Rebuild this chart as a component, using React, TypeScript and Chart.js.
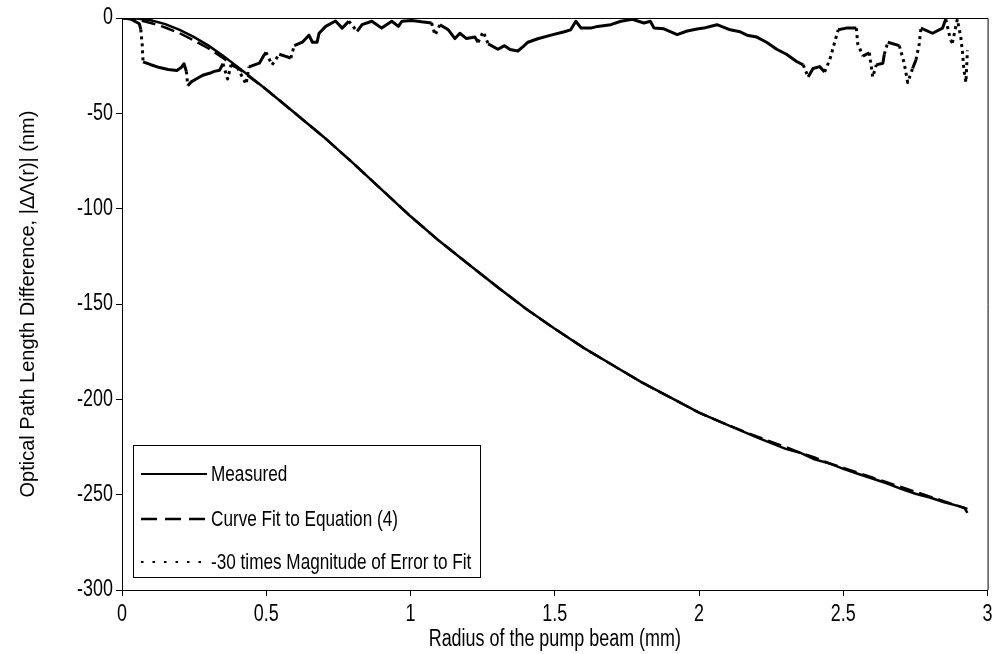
import React, { useEffect, useRef } from 'react';
import { Chart, registerables } from 'chart.js';

Chart.register(...registerables);

// ---- data ----
const radius = [0, 0.05, 0.1, 0.15, 0.2, 0.25, 0.3, 0.35, 0.4, 0.45, 0.5, 0.6, 0.7, 0.8, 0.9, 1.0, 1.1, 1.2, 1.3, 1.4, 1.5, 1.6, 1.7, 1.8, 1.9, 2.0, 2.1, 2.2, 2.3, 2.35, 2.4, 2.45, 2.5, 2.55, 2.6, 2.65, 2.7, 2.75, 2.8, 2.85, 2.9, 2.92, 2.93];
const measured = [0, -0.3, -1.2, -3.2, -6.2, -10, -14.5, -19.8, -25.5, -31.5, -37.5, -50, -62.5, -76, -90, -104, -117, -129, -141, -152.5, -163, -173, -182, -191, -199, -207, -213.5, -220, -226, -228, -231.5, -233.5, -236.5, -239, -241.5, -244, -247, -249.5, -251.5, -254, -256, -257, -259.5];
const curveFit = [0, -0.8, -2.6, -5, -8, -11.8, -16, -21, -26.2, -31.8, -37.5, -50, -62.5, -76, -90, -104, -117, -129, -141, -152.5, -163, -173, -182, -191, -199, -207, -213.5, -219.5, -225, -228, -230.5, -233.5, -236, -238.5, -241, -243.5, -246, -248.5, -251, -253.5, -256, -257, -257.5];

const errorRadius = [0, 0.03, 0.06, 0.065, 0.07, 0.073, 0.1, 0.13, 0.16, 0.19, 0.205, 0.215, 0.223, 0.228, 0.24, 0.257, 0.28, 0.303, 0.32, 0.338, 0.35, 0.366, 0.378, 0.4, 0.43, 0.44, 0.476, 0.49, 0.499, 0.52, 0.545, 0.565, 0.585, 0.597, 0.625, 0.648, 0.66, 0.676, 0.683, 0.706, 0.74, 0.763, 0.786, 0.815, 0.832, 0.866, 0.9, 0.935, 0.958, 0.97, 1.004, 1.038, 1.073, 1.085, 1.102, 1.131, 1.154, 1.171, 1.194, 1.223, 1.234, 1.252, 1.269, 1.303, 1.326, 1.345, 1.372, 1.39, 1.407, 1.441, 1.487, 1.533, 1.555, 1.573, 1.591, 1.625, 1.648, 1.694, 1.729, 1.769, 1.809, 1.831, 1.844, 1.878, 1.924, 1.959, 1.993, 2.016, 2.062, 2.108, 2.142, 2.166, 2.2, 2.234, 2.269, 2.303, 2.338, 2.361, 2.378, 2.395, 2.418, 2.435, 2.453, 2.47, 2.482, 2.51, 2.545, 2.55, 2.568, 2.59, 2.602, 2.614, 2.637, 2.642, 2.654, 2.694, 2.711, 2.723, 2.74, 2.752, 2.763, 2.769, 2.809, 2.844, 2.855, 2.872, 2.878, 2.895, 2.907, 2.913, 2.918, 2.925, 2.93];
const errorValues = [0, -0.5, -3, -6, -14, -23, -24.5, -26, -27, -27.5, -26, -24, -28, -35.5, -33.5, -32, -30, -29, -28, -27.4, -24, -32, -24.6, -26, -34.7, -25.6, -23.7, -20, -18, -24.6, -19, -20, -21, -14.5, -12.7, -9, -12.7, -12.7, -8, -4.4, -1.6, -5.3, -1.7, -7, -3.5, -1.7, -5.3, -1.7, -4.4, -1.7, -1.3, -2, -2.6, -9, -3.5, -6.2, -10.8, -8, -10.8, -10, -12.7, -7.2, -13.6, -16.4, -14.5, -16.5, -17.3, -15, -12.7, -10.9, -9, -7.2, -6.2, -1.7, -5.3, -5.3, -4.4, -3.5, -1.7, -0.7, -2.6, -1.7, -5.3, -5.7, -8.7, -6.8, -5.8, -5.3, -3.5, -6.2, -7.2, -9, -10, -12.7, -16.4, -19, -22.8, -24.6, -31, -26.5, -25.5, -28.3, -21.9, -12.7, -6.2, -5.3, -5.3, -13.6, -20, -18.2, -31, -24.6, -23.7, -19, -12.7, -14.5, -23.7, -33.8, -26.5, -21.9, -13.6, -5.3, -8, -5.3, -0.7, -11.8, -13, -0.7, -10, -18, -27.4, -33.8, -17];

const xTicks = [0, 0.5, 1, 1.5, 2, 2.5, 3];
const yTicks = [0, -50, -100, -150, -200, -250, -300];

const labels = ['Measured', 'Curve Fit to Equation (4)', '-30 times Magnitude of Error to Fit'];
const xTitle = 'Radius of the pump beam (mm)';
const yTitle = 'Optical Path Length Difference, |ΔΛ(r)| (nm)';

const FONT = "'Liberation Sans', Arial, Helvetica, sans-serif";
const SQUEEZE = 0.78; // the reference's horizontal text is drawn narrow

function patchText(ctx: any) {
  if (ctx.__squeezed) return;
  ctx.__squeezed = true;
  const orig = ctx.fillText.bind(ctx);
  ctx.fillText = (text: string, x: number, y: number, maxWidth?: number) => {
    const m = ctx.getTransform();
    if (Math.abs(m.b) > 1e-6 || Math.abs(m.c) > 1e-6) {
      if (maxWidth === undefined) orig(text, x, y); else orig(text, x, y, maxWidth);
      return;
    }
    ctx.save();
    ctx.translate(x, y);
    ctx.scale(SQUEEZE, 1);
    orig(text, 0, 0);
    ctx.restore();
  };
}

const squeezePlugin = {
  id: 'squeezeText',
  beforeDraw(chart: any) { patchText(chart.ctx); },
};

const framePlugin = {
  id: 'frame',
  afterDatasetsDraw(chart: any) {
    const { ctx, chartArea } = chart;
    const { left, right, top, bottom } = chartArea;
    ctx.save();
    ctx.strokeStyle = '#000';
    ctx.lineWidth = 1;
    ctx.beginPath();
    ctx.moveTo(left, top + 0.5);
    ctx.lineTo(right + 0.5, top + 0.5);
    ctx.lineTo(right + 0.5, bottom);
    ctx.stroke();
    ctx.restore();
  },
};

const legendPlugin = {
  id: 'boxLegend',
  afterDraw(chart: any) {
    const { ctx } = chart;
    const ds = chart.data.datasets;
    const bx = 133, by = 445, bw = 347, bh = 132;
    const rows = [474, 519, 562];
    ctx.save();
    ctx.fillStyle = '#fff';
    ctx.fillRect(bx, by, bw, bh);
    ctx.strokeStyle = '#000';
    ctx.lineWidth = 1;
    ctx.strokeRect(bx + 0.5, by + 0.5, bw, bh);
    ds.forEach((d: any, i: number) => {
      const y = rows[i];
      ctx.beginPath();
      ctx.strokeStyle = '#000';
      ctx.lineWidth = d.legendWidth;
      ctx.setLineDash(d.legendDash || []);
      ctx.moveTo(141, y);
      ctx.lineTo(207, y);
      ctx.stroke();
      ctx.setLineDash([]);
      ctx.fillStyle = '#000';
      ctx.font = `22px ${FONT}`;
      ctx.textBaseline = 'middle';
      ctx.textAlign = 'left';
      ctx.fillText(d.label, 211, y + 1);
    });
    ctx.restore();
  },
};

export default function App() {
  const ref = useRef<HTMLCanvasElement>(null);
  useEffect(() => {
    if (!ref.current) return;
    const chart = new Chart(ref.current, {
      type: 'line',
      data: {
        datasets: [
          {
            label: labels[0],
            data: radius.map((r, i) => ({ x: r, y: measured[i] })),
            borderColor: '#000',
            borderWidth: 2.5,
            pointRadius: 0,
            tension: 0,
            legendDash: [],
            legendWidth: 2,
          } as any,
          {
            label: labels[1],
            data: radius.map((r, i) => ({ x: r, y: curveFit[i] })),
            borderColor: '#000',
            borderWidth: 2.5,
            borderDash: [14, 6],
            pointRadius: 0,
            tension: 0,
            legendDash: [16, 8],
            legendWidth: 2.5,
          } as any,
          {
            label: labels[2],
            data: errorRadius.map((r, i) => ({ x: r, y: errorValues[i] })),
            borderColor: '#000',
            borderWidth: 3,
            pointRadius: 0,
            tension: 0,
            borderJoinStyle: 'round',
            legendDash: [2.5, 9],
            legendWidth: 2,
            segment: {
              borderDash: (c: any) => (Math.abs(c.p1.y - c.p0.y) > 9 ? [3, 4] : []),
            },
          } as any,
        ],
      },
      options: {
        animation: false,
        responsive: false,
        maintainAspectRatio: false,
        layout: { padding: { top: 18, right: 9, left: 0, bottom: 0 } },
        plugins: { legend: { display: false }, tooltip: { enabled: false } },
        scales: {
          x: {
            type: 'linear',
            min: 0,
            max: 3,
            afterFit: (s: any) => { s.height = 64; },
            afterBuildTicks: (s: any) => { s.ticks = xTicks.map((v) => ({ value: v })); },
            grid: { drawOnChartArea: false, drawTicks: true, tickLength: 6, color: '#000' },
            border: { display: true, color: '#000', width: 1 },
            ticks: { color: '#000', font: { family: FONT, size: 23 }, padding: 5, maxRotation: 0, callback: (v: any) => String(v) },
            title: { display: true, text: xTitle, color: '#000', font: { family: FONT, size: 23 }, padding: { top: 0, bottom: 1 } },
          },
          y: {
            type: 'linear',
            min: -300,
            max: 0,
            afterFit: (s: any) => { s.width = 122; },
            afterBuildTicks: (s: any) => { s.ticks = yTicks.map((v) => ({ value: v })); },
            grid: { drawOnChartArea: false, drawTicks: true, tickLength: 6, color: '#000' },
            border: { display: true, color: '#000', width: 1 },
            ticks: { color: '#000', font: { family: FONT, size: 23 }, padding: 3, callback: (v: any) => String(v) },
            title: { display: true, text: yTitle, color: '#000', font: { family: FONT, size: 20 }, padding: { top: 16, bottom: 0 } },
          },
        },
      },
      plugins: [squeezePlugin, framePlugin, legendPlugin],
    } as any);
    return () => chart.destroy();
  }, []);
  return (
    <div style={{ position: 'fixed', left: 0, top: 0, width: 999, height: 654, background: '#fff' }}>
      <canvas ref={ref} width={999} height={654} style={{ width: 999, height: 654, display: 'block' }} />
    </div>
  );
}
